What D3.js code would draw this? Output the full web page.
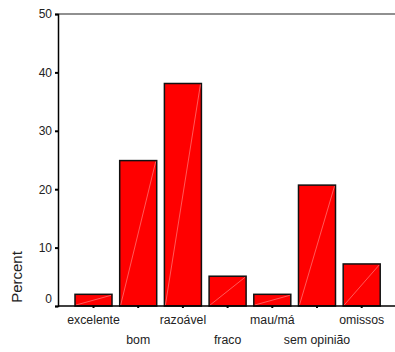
<!DOCTYPE html>
<html><head><meta charset="utf-8">
<script src="https://cdn.jsdelivr.net/npm/d3@7"></script>
<style>body{margin:0;background:#fff}svg{display:block;font-family:"Liberation Sans",Arial,sans-serif}</style>
</head><body><svg id="c" width="395" height="352"></svg>
<script>
const categories = ["excelente","bom","razoável","fraco","mau/má","sem opinião","omissos"];
const values = [2.0, 24.9, 38.1, 5.1, 2.0, 20.7, 7.2];
const yTicks = [0,10,20,30,40,50];

const svg = d3.select("#c");
const x = d3.scaleBand().domain(categories).range([75, 380.2]).paddingInner(0.172).paddingOuter(0);
const y = d3.scaleLinear().domain([0,50]).range([306,14]);

// top frame line
svg.append("line").attr("x1",58).attr("x2",395).attr("y1",14).attr("y2",14).attr("stroke","#222").attr("stroke-width",1.2);

// bars
const g = svg.append("g");
categories.forEach((c,i)=>{
  const x0 = x(c), w = x.bandwidth(), yt = y(values[i]), yb = y(0);
  g.append("rect").attr("x",x0).attr("y",yt).attr("width",w).attr("height",yb-yt)
    .attr("fill","#ff0000").attr("stroke","#111").attr("stroke-width",1.5);
  g.append("line").attr("x1",x0+1).attr("y1",yb-1).attr("x2",x0+w-1).attr("y2",yt+1)
    .attr("stroke","#ff8080").attr("stroke-width",0.7);
});

// y axis
const ya = svg.append("g").attr("transform","translate(58,0)")
  .call(d3.axisLeft(y).tickValues(yTicks).tickSize(3).tickPadding(3));
ya.select(".domain").attr("stroke","#000").attr("stroke-width",1.5);
ya.selectAll(".tick line").attr("stroke","#000").attr("stroke-width",2);
ya.selectAll(".tick text").attr("font-size",12).attr("fill","#222")
  .attr("font-family","Liberation Sans, Arial, sans-serif")
  .attr("dy", d => d===0 ? "-0.3em" : "0.32em");

// x axis
const xa = svg.append("g").attr("transform","translate(0,306)")
  .call(d3.axisBottom(x).tickSize(2).tickSizeOuter(0));
xa.select(".domain").attr("d","M58,0H395").attr("stroke","#000").attr("stroke-width",1.5);
xa.selectAll(".tick line").attr("stroke","#000").attr("stroke-width",2);
xa.selectAll(".tick text").attr("font-size",12.3).attr("fill","#222")
  .attr("font-family","Liberation Sans, Arial, sans-serif")
  .attr("y",(d,i)=> i%2===0 ? 9 : 29);

// y label
svg.append("text").attr("transform","translate(22,277) rotate(-90)")
  .attr("text-anchor","middle").attr("font-size",15).attr("fill","#222").text("Percent");
</script></body></html>
